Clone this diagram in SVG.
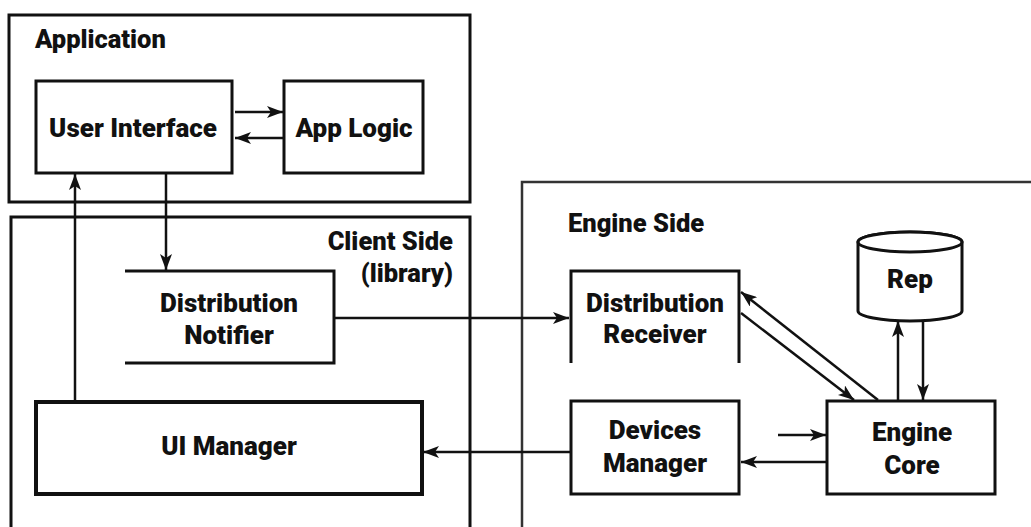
<svg xmlns="http://www.w3.org/2000/svg" width="1031" height="527" viewBox="0 0 1031 527">
  <style>
    .frame { fill: none; stroke: #111; stroke-width: 3; }
    .box { fill: #fff; stroke: #111; stroke-width: 3; }
    .open { fill: none; stroke: #111; stroke-width: 3; }
    .conn { fill: none; stroke: #111; stroke-width: 2.5; marker-end: url(#arrow); }
    .lbl { font-family: Roboto, "Liberation Sans", sans-serif; font-weight: 900; font-size: 26px; fill: #111; text-anchor: middle; }
    .title { font-family: Roboto, "Liberation Sans", sans-serif; font-weight: 900; font-size: 25.5px; fill: #111; }
  </style>
  <defs>
    <marker id="arrow" viewBox="0 0 16 12" refX="16" refY="6" markerWidth="16" markerHeight="12" markerUnits="userSpaceOnUse" orient="auto">
      <path d="M0,0 L16,6 L0,12 L4,6 Z" fill="#111"/>
    </marker>
  </defs>
  <rect width="1031" height="527" fill="#fff"/>

  <!-- containers -->
  <g id="application">
    <rect class="frame" x="9" y="15" width="461" height="187"/>
    <text class="title" x="35" y="48">Application</text>
  </g>
  <g id="client-side">
    <rect class="frame" x="11" y="217" width="459" height="320"/>
    <text class="title" x="453" y="250" text-anchor="end">Client Side</text>
    <text class="title" x="453" y="282" text-anchor="end">(library)</text>
  </g>
  <g id="engine-side">
    <rect class="frame" x="522" y="182" width="520" height="360" style="stroke:#333;stroke-width:2.5"/>
    <text class="title" x="568" y="232">Engine Side</text>
  </g>

  <!-- nodes -->
  <g id="user-interface">
    <rect class="box" x="36" y="81" width="196" height="92"/>
    <text class="lbl" x="133" y="137">User Interface</text>
  </g>
  <g id="app-logic">
    <rect class="box" x="284" y="81" width="139" height="92"/>
    <text class="lbl" x="354" y="137">App Logic</text>
  </g>
  <g id="distribution-notifier">
    <path class="open" d="M125,271 H334 V363 H125"/>
    <text class="lbl" x="229" y="312">Distribution</text>
    <text class="lbl" x="229" y="344">Notifier</text>
  </g>
  <g id="ui-manager">
    <rect class="box" x="36" y="402" width="386" height="92" style="stroke-width:4"/>
    <text class="lbl" x="229" y="455">UI Manager</text>
  </g>
  <g id="distribution-receiver">
    <path class="open" d="M571,363 V271 H739 V363"/>
    <text class="lbl" x="655" y="312">Distribution</text>
    <text class="lbl" x="655" y="343">Receiver</text>
  </g>
  <g id="devices-manager">
    <rect class="box" x="571" y="401" width="168" height="93"/>
    <text class="lbl" x="655" y="439">Devices</text>
    <text class="lbl" x="655" y="472">Manager</text>
  </g>
  <g id="engine-core">
    <rect class="box" x="827" y="401" width="168" height="93"/>
    <text class="lbl" x="912" y="441">Engine</text>
    <text class="lbl" x="912" y="474">Core</text>
  </g>
  <g id="rep">
    <path class="box" d="M858,242 V311 A52,10 0 0 0 962,311 V242 A52,10 0 0 0 858,242 Z"/>
    <ellipse class="box" cx="910" cy="242" rx="52" ry="10"/>
    <text class="lbl" x="910" y="288">Rep</text>
  </g>

  <!-- connectors -->
  <g id="connectors">
    <line class="conn" x1="235" y1="112" x2="283" y2="112"/>
    <line class="conn" x1="283" y1="138" x2="235" y2="138"/>
    <line class="conn" x1="166" y1="174" x2="166" y2="270"/>
    <line class="conn" x1="75" y1="401" x2="75" y2="174"/>
    <line class="conn" x1="335" y1="318" x2="569" y2="318"/>
    <line class="conn" x1="570" y1="452" x2="423" y2="452"/>
    <line class="conn" x1="878" y1="400" x2="741" y2="292"/>
    <line class="conn" x1="741" y1="313" x2="854" y2="400"/>
    <line class="conn" x1="898" y1="400" x2="898" y2="321"/>
    <line class="conn" x1="923" y1="321" x2="923" y2="400"/>
    <line class="conn" x1="778" y1="435" x2="826" y2="435"/>
    <line class="conn" x1="826" y1="462" x2="741" y2="462"/>
  </g>
</svg>
